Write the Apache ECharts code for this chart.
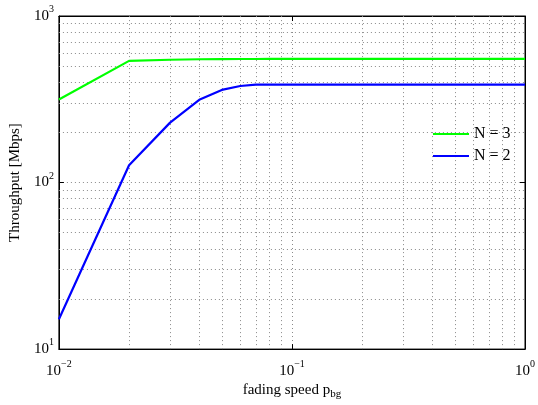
<!DOCTYPE html>
<html>
<head>
<meta charset="utf-8">
<script src="https://cdn.jsdelivr.net/npm/echarts@6/dist/echarts.min.js"></script>
<style>
  html, body { margin: 0; padding: 0; background: #fff; }
  #chart { width: 538px; height: 405px; }
</style>
</head>
<body>
<div id="chart"></div>
<script>
// fading speed p_bg
var speeds = [0.01, 0.02, 0.03, 0.04, 0.05, 0.06, 0.07, 0.08, 0.09, 0.1,
              0.2, 0.3, 0.4, 0.5, 0.6, 0.7, 0.8, 0.9, 1.0];
// throughput [Mbps]
var n3 = [315, 538, 546, 550, 551, 552, 552, 553, 553, 553,
          553, 553, 553, 553, 553, 553, 553, 553, 553];
var n2 = [15.1, 127, 229, 314, 360, 380, 387, 387, 387, 387,
          387, 387, 387, 387, 387, 387, 387, 387, 387];

// dotted grid at the in-between values of each decade
var xMinor = [0.02, 0.03, 0.04, 0.05, 0.06, 0.07, 0.08, 0.09,
              0.2, 0.3, 0.4, 0.5, 0.6, 0.7, 0.8, 0.9];
var yMinor = [20, 30, 40, 50, 60, 70, 80, 90,
              200, 300, 400, 500, 600, 700, 800, 900];

var font = 'Liberation Serif';
var dotted = { color: '#8a8a8a', type: [1, 3], width: 1 };

function pow10(v) {
  var e = Math.round(Math.log(v) / Math.LN10);
  var s = e < 0 ? '\u2212' + (-e) : '' + e;
  return '{b|10}{s|' + s + '}';
}
var rich = {
  b: { fontFamily: font, fontSize: 15, color: '#000' },
  s: { fontFamily: font, fontSize: 10, color: '#000', verticalAlign: 'bottom', padding: [0, 0, 13, 0] }
};

var gridLines = [];
xMinor.forEach(function (v) { gridLines.push({ xAxis: v }); });
yMinor.forEach(function (v) { gridLines.push({ yAxis: v }); });

var chart = echarts.init(document.getElementById('chart'));
chart.setOption({
  animation: false,
  grid: { left: 58, right: 13, top: 16, bottom: 54, show: true, borderColor: '#000', borderWidth: 1 },
  legend: {
    left: 428, top: 121, orient: 'vertical', itemGap: 6,
    itemWidth: 36, itemHeight: 14,
    textStyle: { fontFamily: font, fontSize: 16, color: '#000' },
    data: [
      { name: 'N = 3', icon: 'path://M0,6 L36,6 L36,8 L0,8 Z' },
      { name: 'N = 2', icon: 'path://M0,6 L36,6 L36,8 L0,8 Z' }
    ]
  },
  xAxis: [{
    type: 'log', logBase: 10, min: 0.01, max: 1,
    name: '{n|fading speed p}{sub|bg}', nameLocation: 'middle', nameGap: 24,
    nameTextStyle: {
      rich: {
        n: { fontFamily: font, fontSize: 15, color: '#000' },
        sub: { fontFamily: font, fontSize: 11, color: '#000', verticalAlign: 'top', padding: [8, 0, 0, 0] }
      }
    },
    axisLine: { lineStyle: { color: '#000' } },
    axisTick: { inside: true, length: 5, lineStyle: { color: '#000' } },
    axisLabel: { formatter: pow10, rich: rich, margin: 10 },
    splitLine: { show: true, lineStyle: dotted }
  }, {
    type: 'log', logBase: 10, min: 0.01, max: 1, position: 'top',
    axisLine: { lineStyle: { color: '#000' } },
    axisTick: { inside: true, length: 5, lineStyle: { color: '#000' } },
    axisLabel: { show: false }, splitLine: { show: false }
  }],
  yAxis: [{
    type: 'log', logBase: 10, min: 10, max: 1000,
    name: 'Throughput [Mbps]', nameLocation: 'middle', nameGap: 32,
    nameTextStyle: { fontFamily: font, fontSize: 15, color: '#000' },
    axisLine: { lineStyle: { color: '#000' } },
    axisTick: { inside: true, length: 5, lineStyle: { color: '#000' } },
    axisLabel: { formatter: pow10, rich: rich, margin: 5 },
    splitLine: { show: true, lineStyle: dotted }
  }, {
    type: 'log', logBase: 10, min: 10, max: 1000, position: 'right',
    axisLine: { lineStyle: { color: '#000' } },
    axisTick: { inside: true, length: 5, lineStyle: { color: '#000' } },
    axisLabel: { show: false }, splitLine: { show: false }
  }],
  series: [{
    name: 'N = 3', type: 'line', color: '#00ff00',
    data: speeds.map(function (x, i) { return [x, n3[i]]; }),
    showSymbol: false, lineStyle: { width: 2.2 }, z: 5,
    markLine: {
      silent: true, symbol: 'none', label: { show: false },
      lineStyle: dotted, data: gridLines, z: 1
    }
  }, {
    name: 'N = 2', type: 'line', color: '#0000ff',
    data: speeds.map(function (x, i) { return [x, n2[i]]; }),
    showSymbol: false, lineStyle: { width: 2.2 }, z: 5
  }]
});
</script>
</body>
</html>
